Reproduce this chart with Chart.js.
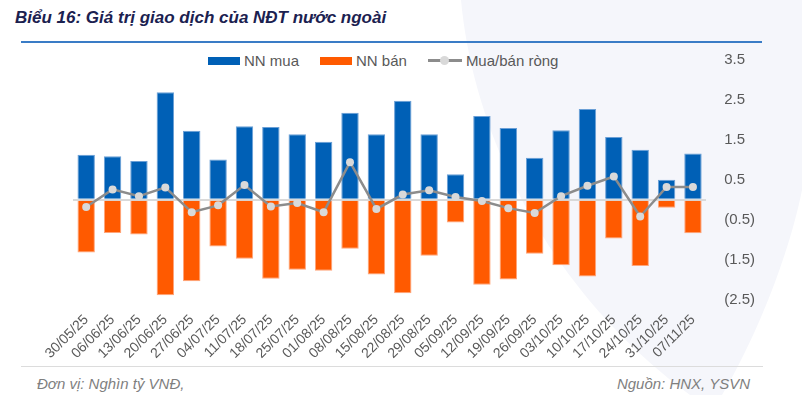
<!DOCTYPE html>
<html lang="vi">
<head>
  <meta charset="UTF-8">
  <title>Biểu 16</title>
  <style>
    * { margin: 0; padding: 0; box-sizing: border-box; }
    body {
      width: 802px;
      height: 395px;
      position: relative;
      overflow: hidden;
      background: #fff;
      font-family: "Liberation Sans", Arial, sans-serif;
    }
    .bg { position: absolute; left: 0; top: 0; }
    .title {
      position: absolute;
      left: 15px;
      top: 8px;
      font-size: 17px;
      font-weight: bold;
      font-style: italic;
      color: #1b2150;
      white-space: nowrap;
    }
    .rule-top {
      position: absolute;
      left: 21px;
      top: 41px;
      width: 741px;
      height: 2px;
      background: #3a7cc6;
    }
    .rule-bottom {
      position: absolute;
      left: 21px;
      top: 366px;
      width: 742px;
      height: 1px;
      background: #dcdcdc;
    }
    .foot {
      position: absolute;
      top: 375px;
      font-size: 15px;
      font-style: italic;
      color: #7f7f7f;
      white-space: nowrap;
    }
    .legend {
      position: absolute;
      top: 52px;
      left: 208px;
      display: flex;
      align-items: center;
      font-size: 15px;
      color: #595959;
      white-space: nowrap;
    }
    .legend .item { display: flex; align-items: center; margin-right: 21px; }
    .legend .box { width: 32px; height: 8px; margin-right: 4px; }
    .legend .ln { position: relative; width: 34px; height: 3px; background: #8c8c8c; margin-right: 4px; }
    .legend .ln i {
      position: absolute; left: 12px; top: -3px;
      width: 9px; height: 9px; border-radius: 50%; background: #d9d9d9;
    }
    #wrap { position: absolute; left: 0; top: 0; width: 802px; height: 372px; }
  </style>
</head>
<body>
  <svg class="bg" width="802" height="395">
    <path d="M461,0 C475,150 560,300 690,395 L722,395 C760,330 790,250 802,190 L802,0 Z" fill="#f5f6fb"/>
  </svg>
  <div class="title">Biểu 16: Giá trị giao dịch của NĐT nước ngoài</div>
  <div class="rule-top"></div>
  <div class="legend">
    <div class="item"><span class="box" style="background:#0060b6"></span>NN mua</div>
    <div class="item"><span class="box" style="background:#ff5a00"></span>NN bán</div>
    <div class="item"><span class="ln"><i></i></span>Mua/bán ròng</div>
  </div>
  <div id="wrap"><canvas id="chart"></canvas></div>
  <div class="rule-bottom"></div>
  <div class="foot" style="left:37px">Đơn vị: Nghìn tỷ VNĐ,</div>
  <div class="foot" style="right:52px">Nguồn: HNX, YSVN</div>

  <script src="https://cdn.jsdelivr.net/npm/chart.js"></script>
  <script>
    const weeks = ['30/05/25', '06/06/25', '13/06/25', '20/06/25', '27/06/25', '04/07/25',
      '11/07/25', '18/07/25', '25/07/25', '01/08/25', '08/08/25', '15/08/25', '22/08/25',
      '29/08/25', '05/09/25', '12/09/25', '19/09/25', '26/09/25', '03/10/25', '10/10/25',
      '17/10/25', '24/10/25', '31/10/25', '07/11/25'];

    // nghìn tỷ VNĐ
    const nnMua = [1.13, 1.09, 0.97, 2.69, 1.73, 1.01, 1.84, 1.82, 1.64, 1.45, 2.18, 1.64,
      2.48, 1.64, 0.64, 2.10, 1.80, 1.05, 1.74, 2.27, 1.57, 1.25, 0.50, 1.16];
    const nnBan = [-1.32, -0.83, -0.87, -2.39, -2.04, -1.17, -1.48, -1.98, -1.75, -1.78, -1.23, -1.87,
      -2.34, -1.40, -0.57, -2.13, -2.00, -1.35, -1.64, -1.92, -0.97, -1.66, -0.20, -0.84];
    const rong = [-0.18, 0.26, 0.09, 0.31, -0.31, -0.14, 0.37, -0.17, -0.08, -0.31, 0.94, -0.23,
      0.13, 0.24, 0.07, -0.03, -0.21, -0.33, 0.09, 0.35, 0.58, -0.42, 0.32, 0.32];

    const yTicks = [-2.5, -1.5, -0.5, 0, 0.5, 1.5, 2.5, 3.5];

    const fmt = v => v === 0 ? '' : (v < 0 ? '(' + Math.abs(v).toFixed(1) + ')' : v.toFixed(1));

    new Chart(document.getElementById('chart'), {
      data: {
        labels: weeks,
        datasets: [
          {
            type: 'line',
            label: 'Mua/bán ròng',
            data: rong,
            borderColor: '#8c8c8c',
            borderWidth: 2.5,
            pointRadius: 4,
            pointBackgroundColor: '#d9d9d9',
            pointBorderWidth: 0,
            tension: 0,
            order: 0
          },
          {
            type: 'bar',
            label: 'NN mua',
            data: nnMua,
            backgroundColor: '#0060b6',
            borderColor: '#6a9fd6',
            borderWidth: 1,
            categoryPercentage: 1,
            barPercentage: 0.66,
            order: 1
          },
          {
            type: 'bar',
            label: 'NN bán',
            data: nnBan,
            backgroundColor: '#ff5a00',
            borderColor: '#ffa57a',
            borderWidth: 1,
            categoryPercentage: 1,
            barPercentage: 0.66,
            order: 1
          }
        ]
      },
      options: {
        responsive: true,
        maintainAspectRatio: false,
        animation: false,
        layout: { padding: { left: 73, right: 29, top: 60, bottom: 6 } },
        plugins: { legend: { display: false }, tooltip: { enabled: false } },
        scales: {
          x: {
            stacked: true,
            grid: { display: false },
            border: { display: false },
            ticks: {
              color: '#595959',
              font: { family: 'Liberation Sans', size: 14 },
              minRotation: 45,
              maxRotation: 45,
              autoSkip: false,
              padding: 4
            }
          },
          y: {
            position: 'right',
            min: -2.5,
            max: 3.5,
            afterBuildTicks: s => { s.ticks = yTicks.map(v => ({ value: v })); },
            grid: {
              drawTicks: false,
              color: c => c.tick && c.tick.value === 0 ? '#d9d9d9' : 'rgba(0,0,0,0)',
              lineWidth: 2
            },
            border: { display: false },
            ticks: {
              color: '#595959',
              font: { family: 'Liberation Sans', size: 15 },
              padding: 18,
              callback: v => fmt(v)
            }
          }
        }
      }
    });
  </script>
</body>
</html>
